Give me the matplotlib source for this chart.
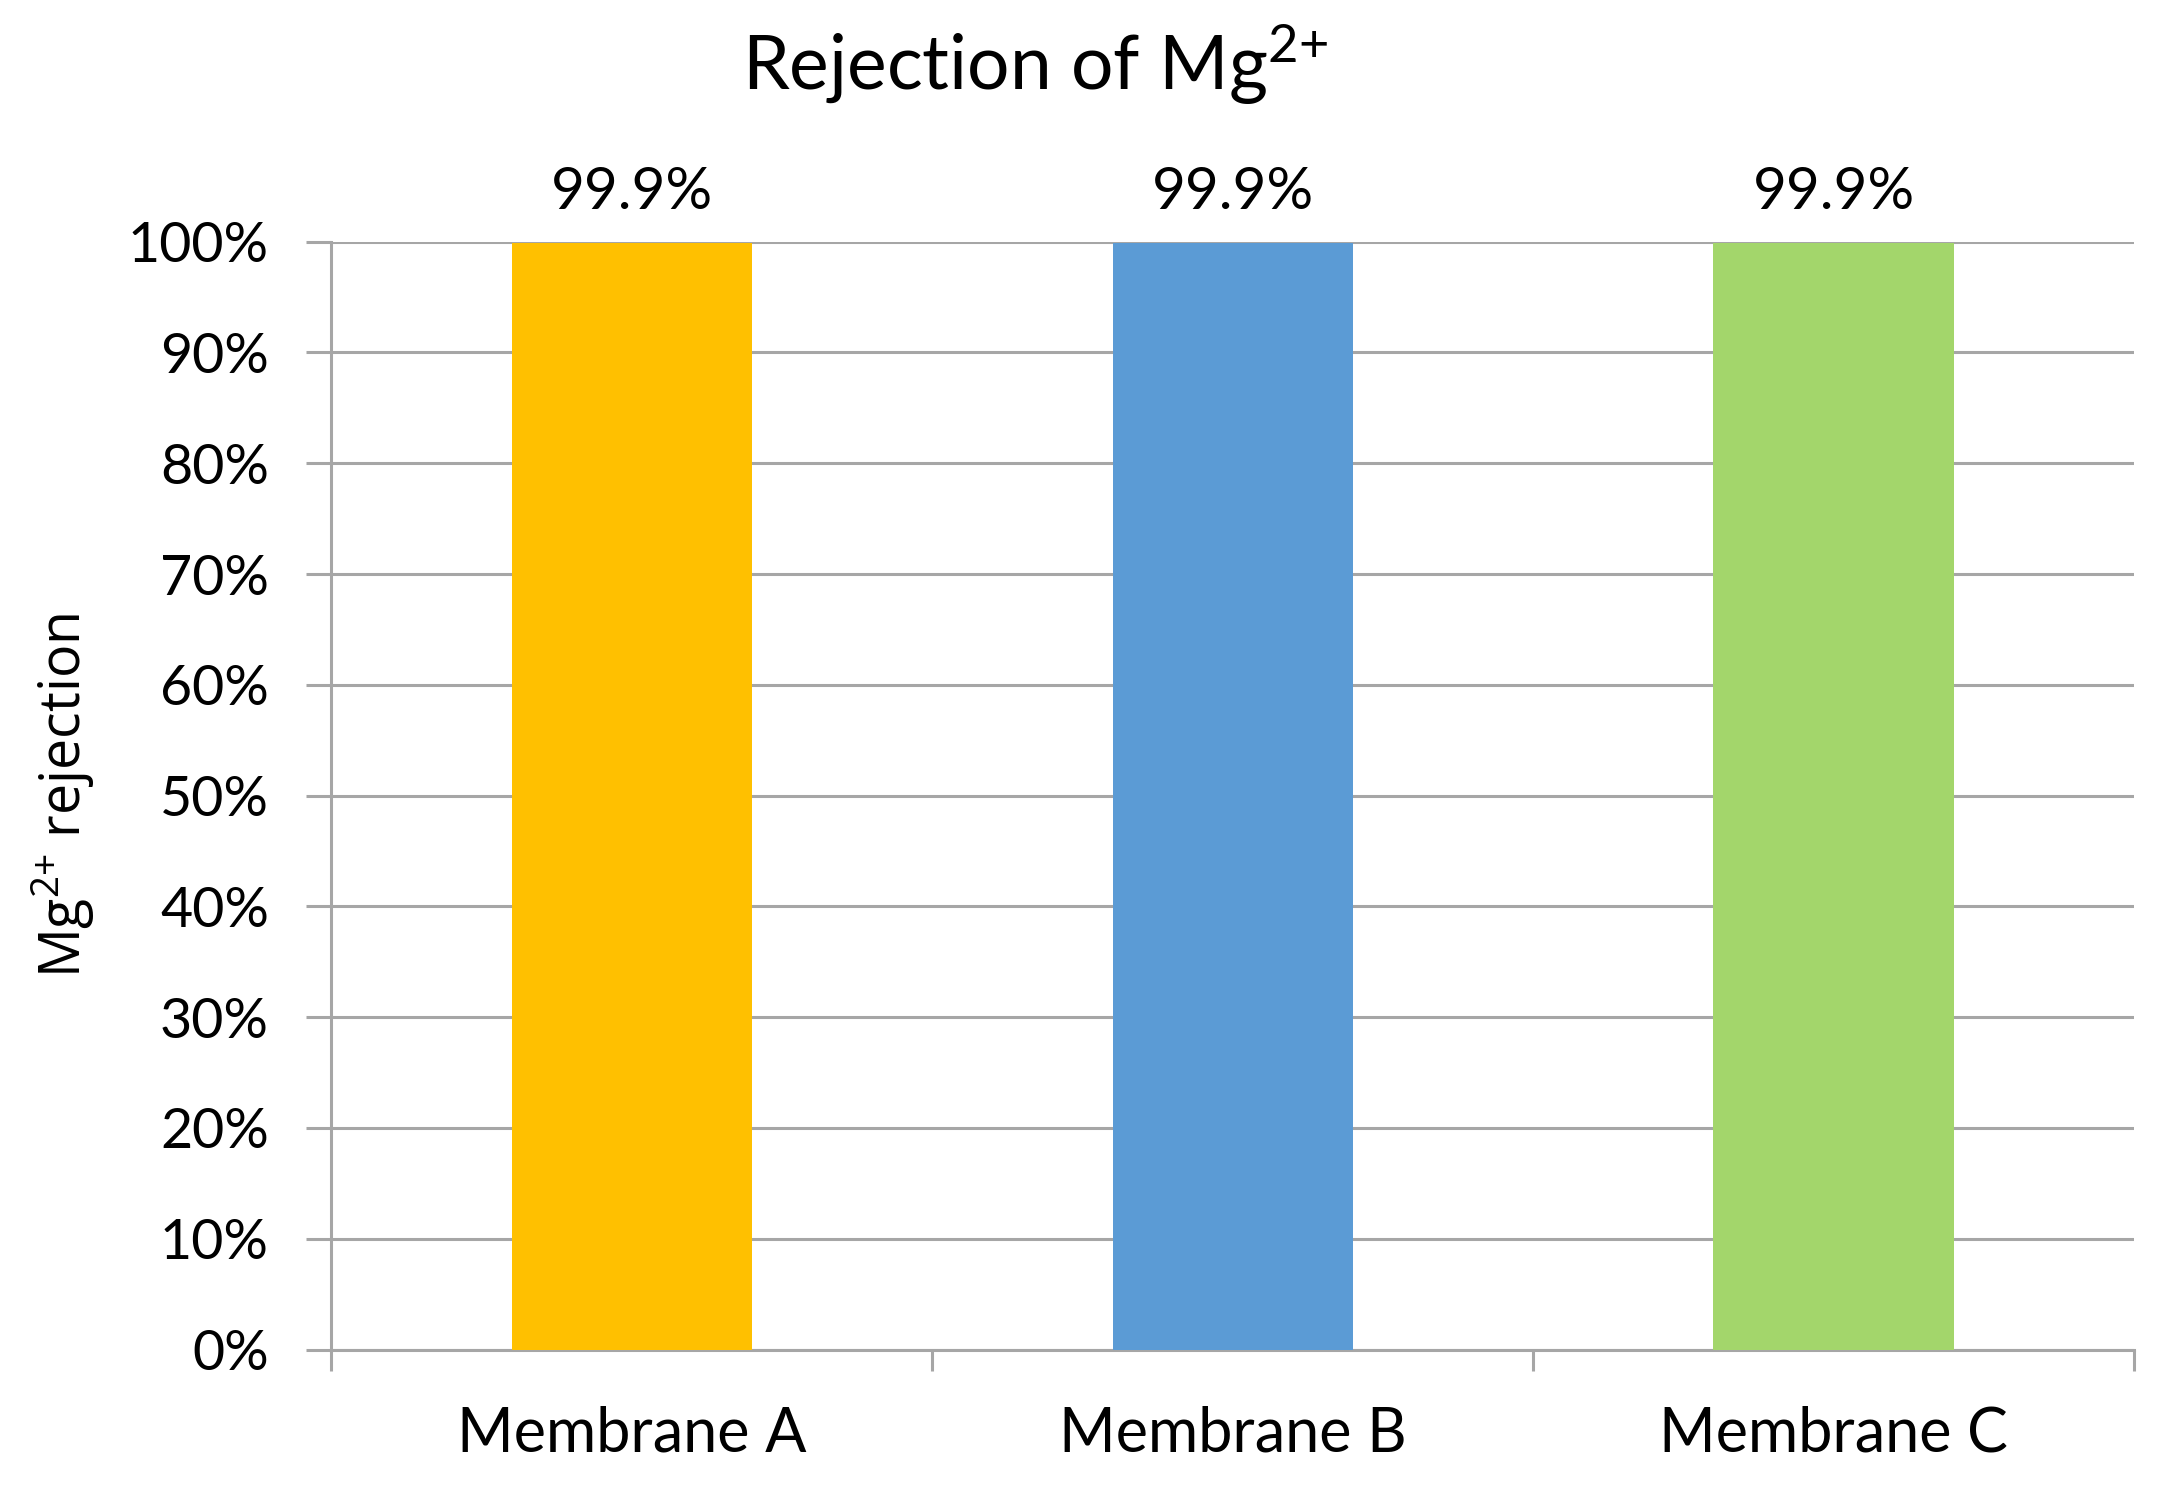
import matplotlib
matplotlib.use('Agg')
import matplotlib.pyplot as plt
from matplotlib.ticker import PercentFormatter

# data
membranes = ['Membrane A', 'Membrane B', 'Membrane C']
rejection = [0.999, 0.999, 0.999]
labels = ['99.9%', '99.9%', '99.9%']
colors = ['#FFC000', '#5B9BD5', '#A3D66B']
yticks = [0, 0.1, 0.2, 0.3, 0.4, 0.5, 0.6, 0.7, 0.8, 0.9, 1.0]

plt.rcParams['font.family'] = ['Lato', 'DejaVu Sans']
plt.rcParams['mathtext.default'] = 'regular'

grid_col = '#A6A6A6'

fig = plt.figure(figsize=(21.66, 14.93), dpi=100)
ax = fig.add_axes([0.1530, 0.0961, 0.8322, 0.7420])

x = list(range(len(membranes)))
ax.bar(x, rejection, width=0.4, color=colors, zorder=3)

for xi, v, lab in zip(x, rejection, labels):
    ax.annotate(lab, (xi, v), xytext=(0, 17), textcoords='offset points',
                ha='center', va='bottom', fontsize=42)

ax.set_xlim(-0.5, 2.5)
ax.set_ylim(0, 1.0)
ax.set_yticks(yticks)
ax.yaxis.set_major_formatter(PercentFormatter(1.0, decimals=0))
ax.set_xticks(x)
ax.set_xticklabels(membranes)
ax.set_xticks([-0.5, 0.5, 1.5, 2.5], minor=True)

ax.grid(axis='y', color=grid_col, lw=2.2, zorder=0)
ax.set_axisbelow(True)
for s in ['top', 'right']:
    ax.spines[s].set_visible(False)
for s in ['left', 'bottom']:
    ax.spines[s].set_color(grid_col)
    ax.spines[s].set_linewidth(2.2)

ax.tick_params(axis='y', length=18, width=2.2, color=grid_col, labelsize=40, pad=27)
ax.tick_params(axis='x', which='major', length=0, labelsize=44, pad=40)
ax.tick_params(axis='x', which='minor', length=15, width=2.2, color=grid_col)

ax.set_ylabel('Mg$^{2{+}}$ rejection', fontsize=40, family=['Open Sans', 'DejaVu Sans'],
              labelpad=22)
fig.text(0.478, 0.94, 'Rejection of Mg$^{2{+}}$', ha='center', va='baseline', fontsize=54)

fig.savefig('out.png', dpi=100)
